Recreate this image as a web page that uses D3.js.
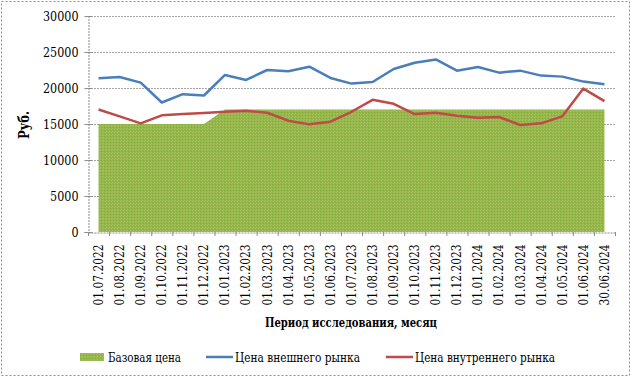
<!DOCTYPE html>
<html>
<head>
<meta charset="utf-8">
<script src="https://cdn.jsdelivr.net/npm/d3@7"></script>
<style>
  body { margin: 0; background: #fff; }
</style>
</head>
<body>
<div id="chart"></div>
<script>
// data
var dates = ["01.07.2022","01.08.2022","01.09.2022","01.10.2022","01.11.2022","01.12.2022",
             "01.01.2023","01.02.2023","01.03.2023","01.04.2023","01.05.2023","01.06.2023",
             "01.07.2023","01.08.2023","01.09.2023","01.10.2023","01.11.2023","01.12.2023",
             "01.01.2024","01.02.2024","01.03.2024","01.04.2024","01.05.2024","01.06.2024","30.06.2024"];
var basePrice = [15000,15000,15000,15000,15000,15000,
                 17000,17000,17000,17000,17000,17000,
                 17000,17000,17000,17000,17000,17000,
                 17000,17000,17000,17000,17000,17000,17000];
var foreignPrice = [21350,21530,20750,17990,19140,18960,
                    21810,21120,22500,22320,22960,21400,
                    20610,20840,22640,23510,23970,22410,
                    22910,22130,22410,21720,21580,20890,20520];
var domesticPrice = [17020,16060,15090,16200,16380,16520,
                     16700,16840,16560,15460,14950,15320,
                     16700,18360,17810,16380,16560,16150,
                     15870,15970,14860,15090,16060,19920,18170];
var yTicks = [0,5000,10000,15000,20000,25000,30000];
var legendNames = ["Базовая цена","Цена внешнего рынка","Цена внутреннего рынка"];

var serif = "'DejaVu Serif', serif";

function init() {
    var w = 631, h = 377;
    var left = 88, right = 615, top = 16, bottom = 232;

    var svg = d3.select("#chart").append("svg")
        .attr("width", w).attr("height", h)
        .style("font-family", serif);

    // textured green fill
    var defs = svg.append("defs");
    var pat = defs.append("pattern").attr("id", "tex")
        .attr("width", 3).attr("height", 3).attr("patternUnits", "userSpaceOnUse");
    pat.append("rect").attr("width", 3).attr("height", 3).attr("fill", "#93b748");
    pat.append("rect").attr("x", 0).attr("y", 0).attr("width", 1).attr("height", 1).attr("fill", "#b3b866");
    pat.append("rect").attr("x", 2).attr("y", 1).attr("width", 1).attr("height", 1).attr("fill", "#7fae3a");
    pat.append("rect").attr("x", 1).attr("y", 2).attr("width", 1).attr("height", 1).attr("fill", "#a9c060");

    // outer dotted border
    svg.append("rect")
        .attr("x", 1.5).attr("y", 1.5).attr("width", w - 3).attr("height", h - 3)
        .attr("fill", "none").attr("stroke", "#8c8c8c").attr("stroke-dasharray", "2,2");

    var xBand = d3.scaleBand().domain(dates).range([left, right]);
    var xPos = function(i) { return xBand(dates[i]) + xBand.bandwidth() / 2; };
    var y = d3.scaleLinear().domain([0, 30000]).range([bottom, top]);

    // gridlines
    svg.append("g").selectAll("line")
        .data(yTicks.slice(1)).enter().append("line")
        .attr("x1", left).attr("x2", right)
        .attr("y1", function(d) { return y(d) + 0.5; })
        .attr("y2", function(d) { return y(d) + 0.5; })
        .attr("stroke", "#a6a6a6").attr("stroke-dasharray", "2,1");

    // base price area
    var area = d3.area()
        .x(function(d, i) { return xPos(i); })
        .y0(y(0))
        .y1(function(d) { return y(d); });
    svg.append("path").datum(basePrice)
        .attr("d", area).attr("fill", "url(#tex)");

    var line = d3.line()
        .x(function(d, i) { return xPos(i); })
        .y(function(d) { return y(d); });
    svg.append("path").datum(foreignPrice)
        .attr("d", line).attr("fill", "none")
        .attr("stroke", "#4a7ebb").attr("stroke-width", 2.5).attr("stroke-linejoin", "round");
    svg.append("path").datum(domesticPrice)
        .attr("d", line).attr("fill", "none")
        .attr("stroke", "#be4b48").attr("stroke-width", 2.5).attr("stroke-linejoin", "round");

    // y axis
    var yAxis = d3.axisLeft(y).tickValues(yTicks).tickSize(4).tickPadding(6)
        .tickFormat(function(d) { return d; });
    var gy = svg.append("g").attr("transform", "translate(" + (left + 0.5) + ",0)").call(yAxis)
        .attr("font-family", null);
    gy.select(".domain").attr("stroke", "#8c8c8c").attr("stroke-dasharray", "2,1");
    gy.selectAll(".tick line").attr("stroke", "#8c8c8c").attr("x2", 4).attr("x1", -4);
    gy.selectAll("text").style("font-size", "13px").style("font-family", serif).attr("x", -10)
        .attr("textLength", function(d) { return String(d).length * 7.1; })
        .attr("lengthAdjust", "spacingAndGlyphs");

    // x axis
    var xAxis = d3.axisBottom(xBand).tickSize(0).tickPadding(0);
    var gx = svg.append("g").attr("transform", "translate(0," + (bottom + 0.5) + ")").call(xAxis)
        .attr("font-family", null);
    gx.select(".domain").attr("stroke", "#8c8c8c").attr("stroke-dasharray", "2,1");
    gx.selectAll(".tick text")
        .attr("transform", "rotate(-90)")
        .attr("x", -12).attr("y", 0).attr("dy", "0.35em")
        .attr("text-anchor", "end")
        .attr("textLength", 61).attr("lengthAdjust", "spacingAndGlyphs")
        .style("font-size", "12.5px").style("font-family", serif);
    // boundary tick marks
    svg.append("g").selectAll("line")
        .data(d3.range(dates.length + 1)).enter().append("line")
        .attr("x1", function(i) { return left + i * xBand.step() + 0.5; })
        .attr("x2", function(i) { return left + i * xBand.step() + 0.5; })
        .attr("y1", bottom).attr("y2", bottom + 4)
        .attr("stroke", "#8c8c8c");

    // axis titles
    svg.append("text")
        .attr("x", 351).attr("y", 327)
        .attr("text-anchor", "middle")
        .attr("textLength", 172).attr("lengthAdjust", "spacingAndGlyphs")
        .style("font-size", "13px").style("font-weight", "bold")
        .text("Период исследования, месяц");
    svg.append("text")
        .attr("transform", "translate(29,125) rotate(-90)")
        .attr("text-anchor", "middle")
        .attr("textLength", 28).attr("lengthAdjust", "spacingAndGlyphs")
        .style("font-size", "14px").style("font-weight", "bold")
        .text("Руб.");

    // legend
    var ly = 357;
    svg.append("rect").attr("x", 80).attr("y", ly - 4).attr("width", 24).attr("height", 8)
        .attr("fill", "url(#tex)");
    svg.append("text").attr("x", 108).attr("y", ly).attr("dy", "0.35em")
        .attr("textLength", 73).attr("lengthAdjust", "spacingAndGlyphs")
        .style("font-size", "13px").text(legendNames[0]);
    svg.append("line").attr("x1", 206).attr("x2", 233).attr("y1", ly).attr("y2", ly)
        .attr("stroke", "#4a7ebb").attr("stroke-width", 2.5);
    svg.append("text").attr("x", 235).attr("y", ly).attr("dy", "0.35em")
        .attr("textLength", 125).attr("lengthAdjust", "spacingAndGlyphs")
        .style("font-size", "13px").text(legendNames[1]);
    svg.append("line").attr("x1", 386).attr("x2", 413).attr("y1", ly).attr("y2", ly)
        .attr("stroke", "#be4b48").attr("stroke-width", 2.5);
    svg.append("text").attr("x", 415).attr("y", ly).attr("dy", "0.35em")
        .attr("textLength", 140).attr("lengthAdjust", "spacingAndGlyphs")
        .style("font-size", "13px").text(legendNames[2]);
}
window.onload = init;
</script>
</body>
</html>
